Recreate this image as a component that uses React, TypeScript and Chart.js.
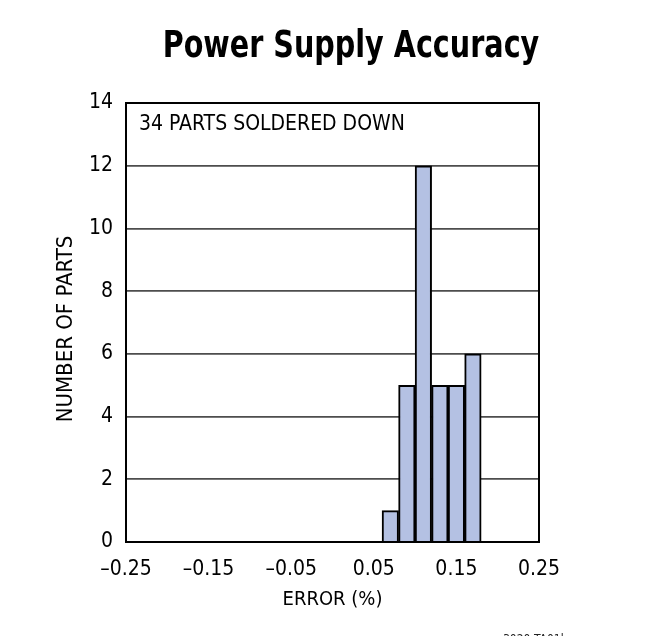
import React, { useEffect, useRef } from "react";
import Chart from "chart.js/auto";

const binCenters = [0.07, 0.09, 0.11, 0.13, 0.15, 0.17];
const partCounts = [1, 5, 12, 5, 5, 6];
const xTicks = { min: -0.25, max: 0.25, step: 0.1 };
const yTicks = { min: 0, max: 14, step: 2 };
const chartTitle = "Power Supply Accuracy";
const yTitle = "NUMBER OF PARTS";
const note = "34 PARTS SOLDERED DOWN";
const drawingId = "3020 TA01b";

const FONT = '"Liberation Sans Narrow", "DejaVu Sans Condensed", "Arial Narrow", sans-serif';

const overlay = {
  id: "overlay",
  afterDraw(chart: any) {
    const { ctx, chartArea } = chart;
    ctx.save();
    // frame
    ctx.strokeStyle = "#000";
    ctx.lineWidth = 2;
    ctx.strokeRect(
      chartArea.left,
      chartArea.top,
      chartArea.right - chartArea.left,
      chartArea.bottom - chartArea.top
    );
    ctx.fillStyle = "#000";
    // title, squeezed to look like a condensed face
    ctx.save();
    ctx.translate(351, 57);
    ctx.scale(0.86, 1);
    ctx.textAlign = "center";
    ctx.textBaseline = "alphabetic";
    ctx.font = `bold 37px ${FONT}`;
    ctx.fillText(chartTitle, 0, 0);
    ctx.restore();
    // y axis title
    ctx.save();
    ctx.translate(66, 329);
    ctx.rotate(-Math.PI / 2);
    ctx.textAlign = "center";
    ctx.textBaseline = "middle";
    ctx.font = `22px ${FONT}`;
    ctx.fillText(yTitle, 0, 0);
    ctx.restore();
    // note inside plot
    ctx.textAlign = "left";
    ctx.textBaseline = "alphabetic";
    ctx.font = `21px ${FONT}`;
    ctx.fillText(note, chartArea.left + 13, 130);
    // drawing id, cut off at the bottom
    ctx.font = `12px ${FONT}`;
    ctx.fillStyle = "#222";
    ctx.fillText(drawingId, 503, 643);
    ctx.restore();
  },
};

const App: React.FC = () => {
  const canvasRef = useRef<HTMLCanvasElement | null>(null);

  useEffect(() => {
    document.body.style.margin = "0";
    if (!canvasRef.current) return;
    const ctx = canvasRef.current.getContext("2d");
    if (!ctx) return;

    const chart = new Chart(ctx, {
      type: "bar",
      data: {
        datasets: [
          {
            data: binCenters.map((x, i) => ({ x, y: partCounts[i] })),
            backgroundColor: "#b4c1e3",
            borderColor: "#000",
            borderWidth: 2,
            barPercentage: 1,
            categoryPercentage: 1,
          },
        ],
      },
      options: {
        animation: false,
        responsive: false,
        layout: { padding: { top: 103, right: 107, left: 0, bottom: 0 } },
        plugins: {
          legend: { display: false },
          tooltip: { enabled: false },
        },
        scales: {
          x: {
            type: "linear",
            min: xTicks.min,
            max: xTicks.max,
            offset: false,
            grid: { display: false },
            border: { display: false },
            ticks: {
              stepSize: xTicks.step,
              color: "#000",
              font: { family: FONT, size: 21 },
              padding: 7,
              maxRotation: 0,
              callback: (v: any) => Number(v).toFixed(2).replace("-", "\u2013"),
            },
            title: {
              display: true,
              text: "ERROR (%)",
              color: "#000",
              font: { family: FONT, size: 20 },
              padding: { bottom: 24, top: 0 },
            },
            afterFit: (s: any) => {
              s.height = 94;
            },
          },
          y: {
            min: yTicks.min,
            max: yTicks.max,
            grid: {
              drawTicks: false,
              color: "#4d4d4d",
              lineWidth: 1.8,
            },
            border: { display: false },
            ticks: {
              stepSize: yTicks.step,
              color: "#000",
              font: { family: FONT, size: 21 },
              padding: 13,
            },
            afterFit: (s: any) => {
              s.width = 126;
            },
          },
        },
      },
      plugins: [overlay],
    });

    return () => {
      chart.destroy();
    };
  }, []);

  return <canvas ref={canvasRef} width={646} height={636}></canvas>;
};

export default App;
